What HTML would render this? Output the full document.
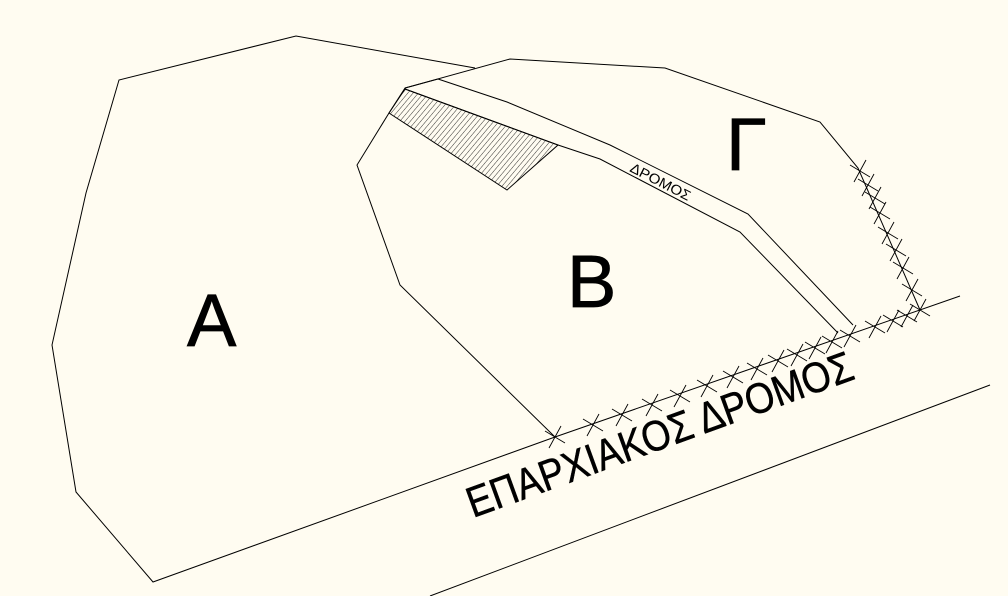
<!DOCTYPE html>
<html><head><meta charset="utf-8"><style>
html,body{margin:0;padding:0;background:#fffcf1;}
svg{display:block;}
text{font-family:"Liberation Sans",sans-serif;fill:#000;}
</style></head><body>
<svg width="1008" height="596" viewBox="0 0 1008 596" xmlns="http://www.w3.org/2000/svg">
<defs>
<pattern id="h" patternUnits="userSpaceOnUse" width="4" height="4" patternTransform="rotate(40)">
<line x1="0" y1="0" x2="0" y2="4" stroke="#000" stroke-width="0.8"/>
</pattern>
</defs>
<rect width="1008" height="596" fill="#fffcf1"/>
<g fill="none" stroke="#000" stroke-width="1">
<polyline points="475,68 296,36 119,80 86,193 52,345 76,492 153,582 555,437 960,296"/>
<line x1="430" y1="596" x2="990" y2="385"/>
<polyline points="555,437 400,285 357,165 389,113 405,88 510,59 665,68 820,122 858,168 920,310"/>
<polyline points="438,79 507,102 610,145 748,214 853,325"/>
<polyline points="405,89 558,145 600,159 740,232 838,333"/>
<line x1="405" y1="88" x2="438" y2="79"/>
</g>
<polygon points="405,89 558,145 507,190 389,113" fill="url(#h)" stroke="#000" stroke-width="1"/>
<g stroke="#000" stroke-width="0.9">
<g transform="translate(555,437)"><line x1="-10" y1="-6" x2="10" y2="6"/><line x1="6" y1="-11" x2="-6" y2="11"/></g>
<g transform="translate(593,425)"><line x1="-10" y1="-6" x2="10" y2="6"/><line x1="6" y1="-11" x2="-6" y2="11"/></g>
<g transform="translate(622,415)"><line x1="-10" y1="-6" x2="10" y2="6"/><line x1="6" y1="-11" x2="-6" y2="11"/></g>
<g transform="translate(652,405)"><line x1="-10" y1="-6" x2="10" y2="6"/><line x1="6" y1="-11" x2="-6" y2="11"/></g>
<g transform="translate(680,396)"><line x1="-10" y1="-6" x2="10" y2="6"/><line x1="6" y1="-11" x2="-6" y2="11"/></g>
<g transform="translate(707,386)"><line x1="-10" y1="-6" x2="10" y2="6"/><line x1="6" y1="-11" x2="-6" y2="11"/></g>
<g transform="translate(733,377)"><line x1="-10" y1="-6" x2="10" y2="6"/><line x1="6" y1="-11" x2="-6" y2="11"/></g>
<g transform="translate(757,369)"><line x1="-10" y1="-6" x2="10" y2="6"/><line x1="6" y1="-11" x2="-6" y2="11"/></g>
<g transform="translate(778,361)"><line x1="-10" y1="-6" x2="10" y2="6"/><line x1="6" y1="-11" x2="-6" y2="11"/></g>
<g transform="translate(797,355)"><line x1="-10" y1="-6" x2="10" y2="6"/><line x1="6" y1="-11" x2="-6" y2="11"/></g>
<g transform="translate(815,348)"><line x1="-10" y1="-6" x2="10" y2="6"/><line x1="6" y1="-11" x2="-6" y2="11"/></g>
<g transform="translate(832,342)"><line x1="-10" y1="-6" x2="10" y2="6"/><line x1="6" y1="-11" x2="-6" y2="11"/></g>
<g transform="translate(850,336)"><line x1="-10" y1="-6" x2="10" y2="6"/><line x1="6" y1="-11" x2="-6" y2="11"/></g>
<g transform="translate(875,327)"><line x1="-10" y1="-6" x2="10" y2="6"/><line x1="6" y1="-11" x2="-6" y2="11"/></g>
<g transform="translate(893,321)"><line x1="-10" y1="-6" x2="10" y2="6"/><line x1="6" y1="-11" x2="-6" y2="11"/></g>
<g transform="translate(907,316)"><line x1="-10" y1="-6" x2="10" y2="6"/><line x1="6" y1="-11" x2="-6" y2="11"/></g>
<g transform="translate(920,310)"><line x1="-10" y1="-6" x2="10" y2="6"/><line x1="6" y1="-11" x2="-6" y2="11"/></g>
<g transform="translate(912,290)"><line x1="-10" y1="-6" x2="10" y2="6"/><line x1="6" y1="-11" x2="-6" y2="11"/></g>
<g transform="translate(903,268)"><line x1="-10" y1="-6" x2="10" y2="6"/><line x1="6" y1="-11" x2="-6" y2="11"/></g>
<g transform="translate(896,250)"><line x1="-10" y1="-6" x2="10" y2="6"/><line x1="6" y1="-11" x2="-6" y2="11"/></g>
<g transform="translate(888,233)"><line x1="-10" y1="-6" x2="10" y2="6"/><line x1="6" y1="-11" x2="-6" y2="11"/></g>
<g transform="translate(880,213)"><line x1="-10" y1="-6" x2="10" y2="6"/><line x1="6" y1="-11" x2="-6" y2="11"/></g>
<g transform="translate(875,198)"><line x1="-10" y1="-6" x2="10" y2="6"/><line x1="6" y1="-11" x2="-6" y2="11"/></g>
<g transform="translate(868,185)"><line x1="-10" y1="-6" x2="10" y2="6"/><line x1="6" y1="-11" x2="-6" y2="11"/></g>
<g transform="translate(860,171)"><line x1="-10" y1="-6" x2="10" y2="6"/><line x1="6" y1="-11" x2="-6" y2="11"/></g>
</g>
<text x="187" y="346" font-size="74" stroke="#000" stroke-width="0.8">A</text>
<text x="567" y="307" font-size="74" stroke="#000" stroke-width="0.8">B</text>
<text x="726" y="170" font-size="74" stroke="#000" stroke-width="0.8">Γ</text>
<text font-size="14" textLength="66" lengthAdjust="spacingAndGlyphs" transform="translate(629,171) rotate(27)">ΔΡΟΜΟΣ</text>
<text font-size="43" textLength="408" lengthAdjust="spacingAndGlyphs" stroke="#000" stroke-width="0.5" transform="translate(473,518) rotate(-20)">ΕΠΑΡΧΙΑΚΟΣ ΔΡΟΜΟΣ</text>
</svg>
</body></html>
